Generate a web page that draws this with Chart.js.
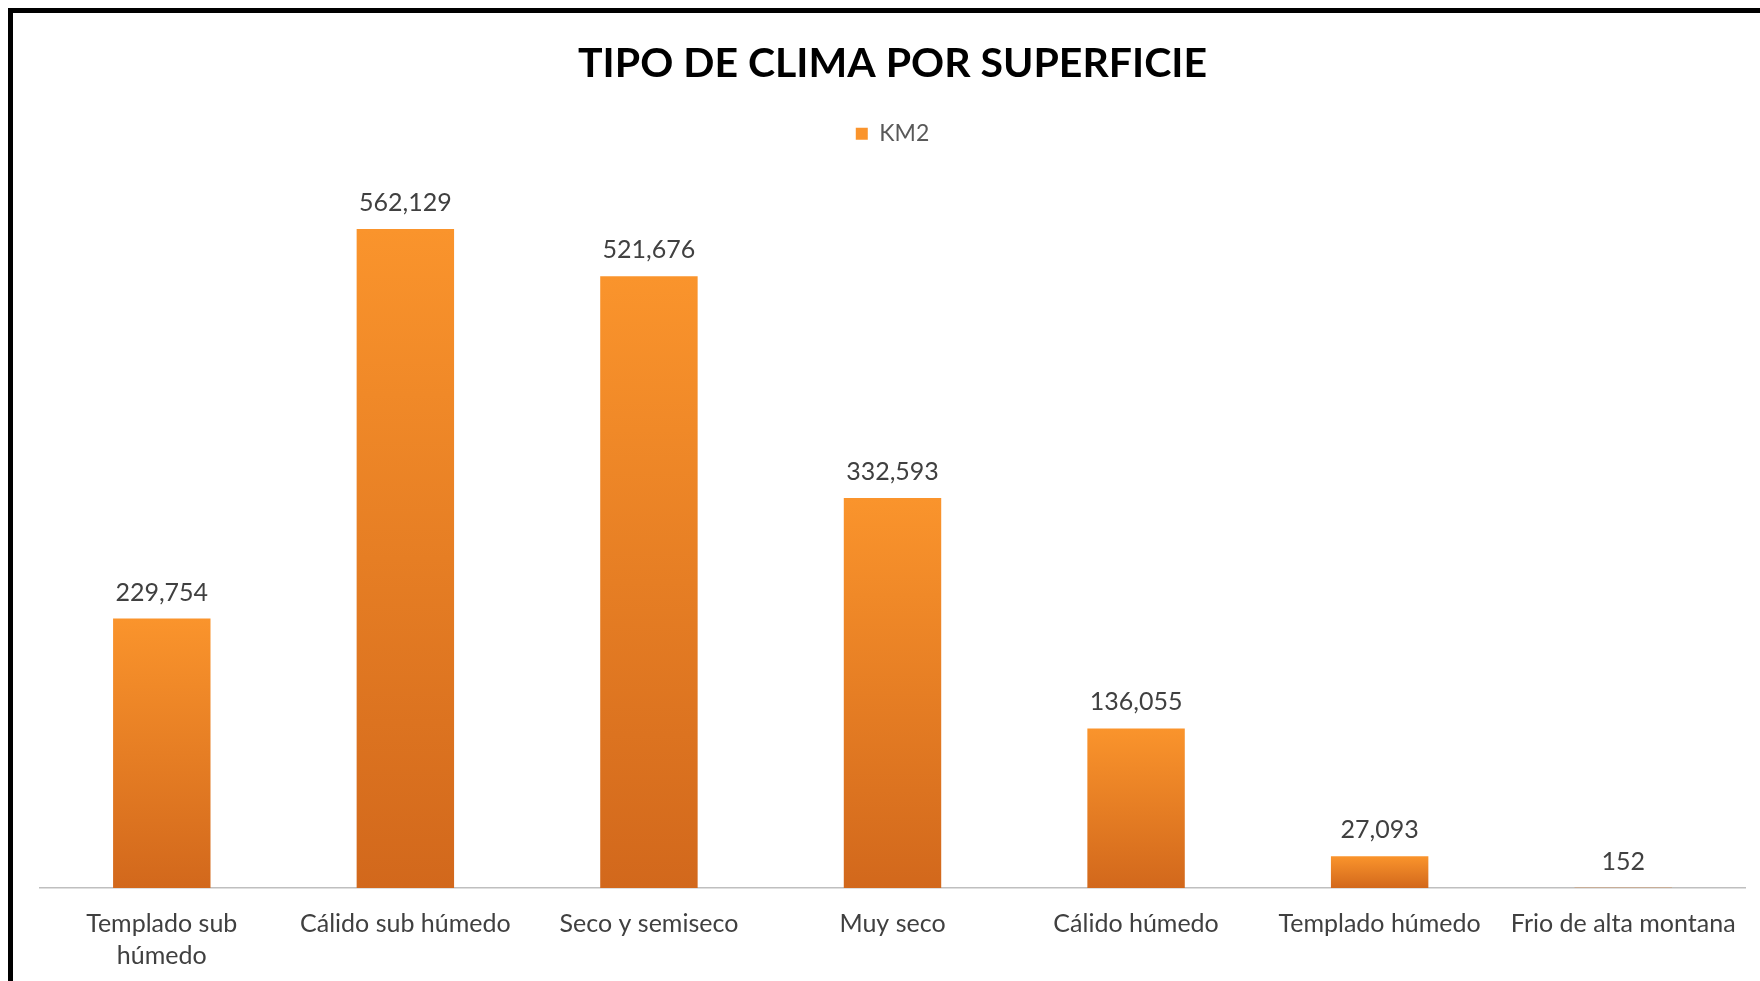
<!DOCTYPE html>
<html lang="es">
<head>
<meta charset="utf-8">
<title>Tipo de clima por superficie</title>
<script src="https://cdn.jsdelivr.net/npm/chart.js@4.4.1/dist/chart.umd.min.js"></script>
<style>
  html, body { margin: 0; padding: 0; background: #fff; overflow: hidden; }
  #wrap { position: relative; width: 1760px; height: 981px; overflow: hidden; }
  #frame { position: absolute; left: 8px; top: 8px; right: -10px; bottom: -10px; border-left: 5px solid #000; border-top: 5px solid #000; pointer-events: none; }
  canvas { position: absolute; left: 0; top: 0; }
</style>
</head>
<body>
<div id="wrap">
  <canvas id="climaChart" width="1760" height="1000"></canvas>
  <div id="frame"></div>
</div>
<script>
// data
const categories = [['Templado sub', 'húmedo'], 'Cálido sub húmedo', 'Seco y semiseco', 'Muy seco', 'Cálido húmedo', 'Templado húmedo', 'Frio de alta montana'];
const km2 = [229754, 562129, 521676, 332593, 136055, 27093, 152];
const seriesName = 'KM2';

// orange gradient per bar, bright at the top, darker at the base
function barFill(context) {
    const chart = context.chart;
    if (!chart.chartArea || context.type !== 'data') {
        return '#F28A24';
    }
    const yScale = chart.scales.y;
    const top = yScale.getPixelForValue(context.raw);
    const bottom = yScale.getPixelForValue(0);
    if (bottom - top < 1) {
        return '#E07A20';
    }
    const grad = chart.ctx.createLinearGradient(0, top, 0, bottom);
    grad.addColorStop(0, '#FA942C');
    grad.addColorStop(1, '#D2681C');
    return grad;
}

// value labels above the bars
const valueLabels = {
    id: 'valueLabels',
    afterDatasetsDraw(chart) {
        const ctx = chart.ctx;
        const meta = chart.getDatasetMeta(0);
        ctx.save();
        ctx.font = '25px Lato';
        ctx.fillStyle = '#404040';
        ctx.textAlign = 'center';
        ctx.textBaseline = 'alphabetic';
        meta.data.forEach((bar, i) => {
            ctx.fillText(km2[i].toLocaleString('en-US'), bar.x, bar.y - 18);
        });
        ctx.restore();
    }
};

const ctx = document.getElementById('climaChart').getContext('2d');
const climaChart = new Chart(ctx, {
    type: 'bar',
    data: {
        labels: categories,
        datasets: [{
            label: seriesName,
            data: km2,
            backgroundColor: barFill,
            borderWidth: 0,
            categoryPercentage: 1,
            barPercentage: 0.4
        }]
    },
    options: {
        responsive: false,
        animation: false,
        layout: {
            padding: { left: 40, right: 15, top: 0, bottom: 8 }
        },
        plugins: {
            title: {
                display: true,
                text: 'TIPO DE CLIMA POR SUPERFICIE',
                color: '#000',
                font: { family: 'Lato', size: 41, weight: 'bold' },
                padding: { top: 39, bottom: 24 }
            },
            legend: {
                display: true,
                labels: {
                    boxWidth: 12,
                    boxHeight: 12,
                    color: '#595959',
                    font: { family: 'Lato', size: 23 }
                }
            },
            tooltip: { enabled: false }
        },
        scales: {
            x: {
                grid: { display: false, drawTicks: false },
                border: { display: true, color: '#BFBFBF', width: 1.5 },
                ticks: {
                    color: '#404040',
                    font: { family: 'Lato', size: 25, lineHeight: '32px' },
                    padding: 20,
                    autoSkip: false,
                    maxRotation: 0
                }
            },
            y: {
                display: false,
                min: 0,
                max: 625000
            }
        }
    },
    plugins: [valueLabels]
});
</script>
</body>
</html>
